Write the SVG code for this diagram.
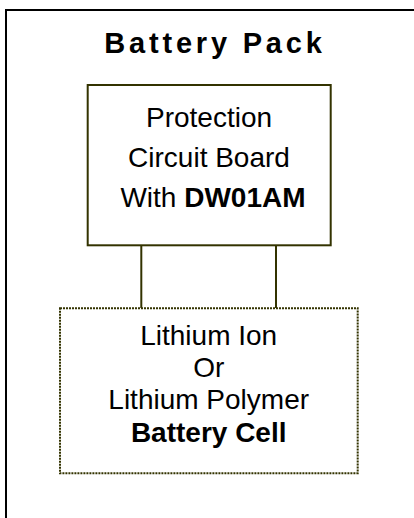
<svg xmlns="http://www.w3.org/2000/svg" width="414" height="518" viewBox="0 0 414 518">
<style>
  .t { font-family: "Liberation Sans", Arial, sans-serif; fill: #000; text-anchor: middle; }
  .r { font-size: 28px; }
  .b { font-weight: bold; }
  .box { fill: #fff; stroke: #333300; stroke-width: 2; }
  .dot { fill: #fff; stroke: #333300; stroke-width: 2; stroke-dasharray: 2 1; }
  .conn { stroke: #333300; stroke-width: 2; fill: none; }
</style>
<rect width="414" height="518" fill="#fff"/>
<g id="battery-pack">
  <rect x="6" y="10" width="420" height="520" fill="none" stroke="#000" stroke-width="2"/>
  <text class="t b" x="215" y="53" font-size="29" letter-spacing="3.8">Battery Pack</text>
</g>
<g id="connectors">
  <line class="conn" x1="141.3" y1="246" x2="141.3" y2="308"/>
  <line class="conn" x1="276" y1="246" x2="276" y2="308"/>
</g>
<g id="pcb">
  <rect class="box" x="87.7" y="85" width="243" height="160.3"/>
  <text class="t r" x="209" y="126.7">Protection</text>
  <text class="t r" x="209" y="166.7">Circuit Board</text>
  <text class="t r" x="213" y="207">With <tspan class="b">DW01AM</tspan></text>
</g>
<g id="cell">
  <rect class="dot" x="60" y="308.3" width="297.7" height="165"/>
  <text class="t r" x="208.7" y="345">Lithium Ion</text>
  <text class="t r" x="208.7" y="376.7">Or</text>
  <text class="t r" x="208.7" y="409.3">Lithium Polymer</text>
  <text class="t r b" x="208.7" y="441.7">Battery Cell</text>
</g>
</svg>
